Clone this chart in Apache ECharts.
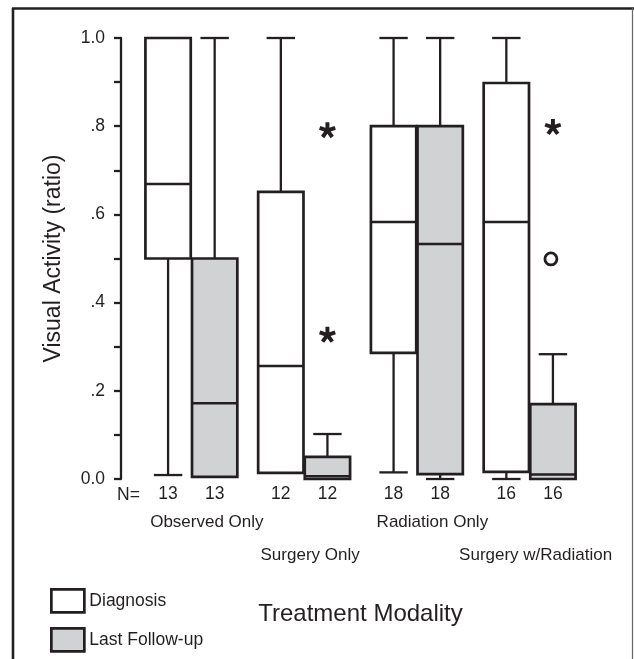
<!DOCTYPE html>
<html>
<head>
<meta charset="utf-8">
<script src="https://cdn.jsdelivr.net/npm/echarts@6/dist/echarts.min.js"></script>
<style>
  html, body { margin: 0; padding: 0; background: #fff; }
  #chart { width: 634px; height: 659px; }
</style>
</head>
<body>
<div id="chart"></div>
<script>
// ---- data ----
var groups = ['Observed Only', 'Surgery Only', 'Radiation Only', 'Surgery w/Radiation'];
var nDiagnosis = [13, 12, 18, 16];
var nFollowUp = [13, 12, 18, 16];
// [min, Q1, median, Q3, max]
var diagnosisBoxes = [
  [0.009, 0.5, 0.669, 1.0, 1.0],
  [0.014, 0.014, 0.256, 0.651, 1.0],
  [0.015, 0.286, 0.583, 0.8, 1.0],
  [0.0, 0.016, 0.583, 0.898, 1.0]
];
var followUpBoxes = [
  [0.005, 0.005, 0.172, 0.5, 1.0],
  [0.0, 0.0, 0.006, 0.05, 0.102],
  [0.0, 0.011, 0.533, 0.8, 1.0],
  [0.0, 0.0, 0.01, 0.17, 0.283]
];
// extreme values (asterisk) and outliers (circle) of last follow-up: [groupIndex, value]
var extremes = [[1, 0.791], [1, 0.327], [3, 0.798]];
var outliers = [[3, 0.499]];
var yTickLabels = {0: '0.0', 2: '.2', 4: '.4', 6: '.6', 8: '.8', 10: '1.0'};

// ---- style ----
var INK = '#231f20';
var GRAY = '#d1d2d4';
var FONT = "'Liberation Sans', Arial, Helvetica, sans-serif";
var OFFSET = 0.2066, HALF_BOX = 0.201, HALF_CAP = 0.126;

function boxRenderer(fill, sign) {
  return function (params, api) {
    var idx = api.value(0);
    var band = api.size([1, 0])[0];
    var cx = api.coord([idx, 0])[0] + sign * band * OFFSET;
    var hw = band * HALF_BOX, hc = band * HALF_CAP;
    var yMin = api.coord([idx, api.value(1)])[1];
    var yQ1 = api.coord([idx, api.value(2)])[1];
    var yMed = api.coord([idx, api.value(3)])[1];
    var yQ3 = api.coord([idx, api.value(4)])[1];
    var yMax = api.coord([idx, api.value(5)])[1];
    var lineStyle = { stroke: INK, lineWidth: 2.3, fill: null };
    var children = [];
    if (yMax < yQ3 - 0.5) {
      children.push({ type: 'line', shape: { x1: cx, y1: yQ3, x2: cx, y2: yMax }, style: lineStyle });
      children.push({ type: 'line', shape: { x1: cx - hc, y1: yMax, x2: cx + hc, y2: yMax }, style: lineStyle });
    }
    if (yMin > yQ1 + 0.5) {
      children.push({ type: 'line', shape: { x1: cx, y1: yQ1, x2: cx, y2: yMin }, style: lineStyle });
      children.push({ type: 'line', shape: { x1: cx - hc, y1: yMin, x2: cx + hc, y2: yMin }, style: lineStyle });
    }
    children.push({ type: 'rect', shape: { x: cx - hw, y: yQ3, width: 2 * hw, height: yQ1 - yQ3 },
      style: { fill: fill, stroke: INK, lineWidth: 2.7 } });
    children.push({ type: 'line', shape: { x1: cx - hw, y1: yMed, x2: cx + hw, y2: yMed },
      style: { stroke: INK, lineWidth: 2.5 } });
    return { type: 'group', children: children };
  };
}

function asteriskPath() {
  var parts = [];
  var w = 0.24, L = 1.0, b = -0.15;
  [-90, -18, 54, 126, 198].forEach(function (deg) {
    var a = deg * Math.PI / 180;
    var dx = Math.cos(a), dy = Math.sin(a), px = -dy, py = dx;
    var pts = [
      [b * dx + w * px, b * dy + w * py],
      [L * dx + w * px, L * dy + w * py],
      [L * dx - w * px, L * dy - w * py],
      [b * dx - w * px, b * dy - w * py]
    ];
    parts.push('M' + pts.map(function (p) {
      return (p[0] * 100).toFixed(1) + ' ' + (p[1] * 100).toFixed(1);
    }).join(' L') + ' Z');
  });
  return parts.join(' ');
}

function toCustomData(boxes) {
  return boxes.map(function (b, i) { return [i].concat(b); });
}

var chart = echarts.init(document.getElementById('chart'), null, { renderer: 'canvas' });

var legendText = { fontFamily: FONT, fontSize: 17.5, color: INK };
var option = {
  backgroundColor: '#fff',
  animation: false,
  textStyle: { fontFamily: FONT, color: INK },
  grid: { left: 135, right: 48, top: 38, bottom: 180, containLabel: false },
  legend: [
    {
      left: 45, top: 583, itemWidth: 33, itemHeight: 23, itemGap: 10,
      textStyle: legendText, selectedMode: false,
      data: [{ name: 'Diagnosis', icon: 'rect', itemStyle: { color: '#fff', borderColor: INK, borderWidth: 2.7 } }]
    },
    {
      left: 45, top: 622, itemWidth: 33, itemHeight: 23, itemGap: 10,
      textStyle: legendText, selectedMode: false,
      data: [{ name: 'Last Follow-up', icon: 'rect', itemStyle: { color: GRAY, borderColor: INK, borderWidth: 2.7 } }]
    }
  ],
  xAxis: [
    {
      type: 'category', data: groups, position: 'bottom',
      axisLine: { show: false }, axisTick: { show: false }, splitLine: { show: false },
      axisLabel: {
        interval: 0, margin: 6, fontFamily: FONT, fontSize: 17.5, color: INK,
        formatter: function (v, i) {
          return '{a|' + nDiagnosis[i] + '}{g| }{b|' + nFollowUp[i] + '}';
        },
        rich: {
          a: { width: 30, align: 'center', fontFamily: FONT, fontSize: 17.5, color: INK },
          g: { width: 16.6, fontSize: 17 },
          b: { width: 30, align: 'center', fontFamily: FONT, fontSize: 17.5, color: INK }
        }
      }
    },
    {
      type: 'category', data: groups, position: 'bottom',
      axisLine: { show: false }, axisTick: { show: false }, splitLine: { show: false },
      name: 'Treatment Modality', nameLocation: 'middle', nameGap: 123,
      nameTextStyle: { fontFamily: FONT, fontSize: 24, color: INK },
      axisLabel: {
        interval: 0, margin: 35, fontFamily: FONT, fontSize: 17, color: INK,
        formatter: function (v, i) {
          return (i % 2 === 0 ? '{e|' : '{o|') + v + '}';
        },
        rich: {
          e: { padding: [0, 0, 0, 31], fontFamily: FONT, fontSize: 17, color: INK },
          o: { padding: [33, 0, 0, 12], fontFamily: FONT, fontSize: 17, color: INK }
        }
      }
    }
  ],
  yAxis: {
    type: 'value', min: 0, max: 1, interval: 0.1, offset: 14,
    name: 'Visual Activity (ratio)', nameLocation: 'middle', nameRotate: 90, nameGap: 56,
    nameTextStyle: { fontFamily: FONT, fontSize: 23, color: INK },
    axisLine: { show: true, lineStyle: { color: INK, width: 2.3 } },
    axisTick: { show: true, length: 7, lineStyle: { color: INK, width: 2.3 } },
    splitLine: { show: false },
    axisLabel: {
      margin: 16, fontFamily: FONT, fontSize: 17.5, color: INK,
      formatter: function (v) {
        var k = Math.round(v * 10);
        return yTickLabels[k] !== undefined ? yTickLabels[k] : '';
      }
    }
  },
  series: [
    {
      name: 'Diagnosis', type: 'custom', xAxisIndex: 0, yAxisIndex: 0,
      itemStyle: { color: '#fff', borderColor: INK },
      encode: { x: 0, y: [1, 2, 3, 4, 5] },
      renderItem: boxRenderer('#fff', -1),
      data: toCustomData(diagnosisBoxes)
    },
    {
      name: 'Last Follow-up', type: 'custom', xAxisIndex: 0, yAxisIndex: 0,
      itemStyle: { color: GRAY, borderColor: INK },
      encode: { x: 0, y: [1, 2, 3, 4, 5] },
      renderItem: boxRenderer(GRAY, 1),
      data: toCustomData(followUpBoxes)
    },
    {
      name: 'extremes', type: 'custom', xAxisIndex: 0, yAxisIndex: 0,
      encode: { x: 0, y: 1 },
      renderItem: function (params, api) {
        var idx = api.value(0);
        var band = api.size([1, 0])[0];
        var p = api.coord([idx, api.value(1)]);
        var cx = p[0] + band * OFFSET;
        return {
          type: 'path',
          shape: { pathData: asteriskPath(), x: cx - 8.5, y: p[1] - 8, width: 17, height: 16 },
          style: { fill: INK, stroke: null }
        };
      },
      data: extremes
    },
    {
      name: 'outliers', type: 'custom', xAxisIndex: 0, yAxisIndex: 0,
      encode: { x: 0, y: 1 },
      renderItem: function (params, api) {
        var idx = api.value(0);
        var band = api.size([1, 0])[0];
        var p = api.coord([idx, api.value(1)]);
        var cx = p[0] + band * OFFSET;
        return {
          type: 'circle',
          shape: { cx: cx - 2, cy: p[1], r: 6 },
          style: { fill: '#fff', stroke: INK, lineWidth: 2.8 }
        };
      },
      data: outliers
    }
  ],
  graphic: [
    { type: 'line', shape: { x1: 13, y1: 8, x2: 13, y2: 659 }, style: { stroke: INK, lineWidth: 2.6 } },
    { type: 'line', shape: { x1: 12, y1: 8.5, x2: 634, y2: 8.5 }, style: { stroke: INK, lineWidth: 2.6 } },
    { type: 'line', shape: { x1: 632.5, y1: 8, x2: 632.5, y2: 659 }, style: { stroke: '#666', lineWidth: 1.2 } },
    { type: 'text', left: 117, top: 486, style: { text: 'N=', fontFamily: FONT, fontSize: 17.5, fill: INK } }
  ]
};
chart.setOption(option);
</script>
</body>
</html>
